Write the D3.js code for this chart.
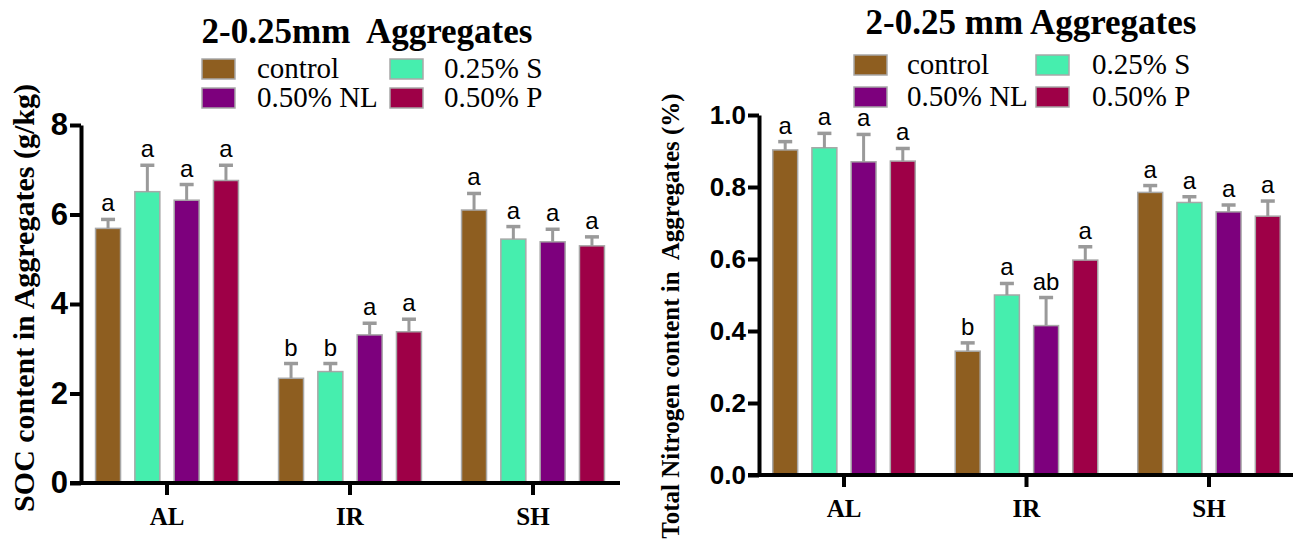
<html>
<head>
<script src="https://d3js.org/d3.v7.min.js"></script>
<style>
body { margin: 0; background: #fff; }
</style>
</head>
<body>
<script>
var groups = ["AL", "IR", "SH"];
var series = ["control", "0.25% S", "0.50% NL", "0.50% P"];
var colors = ["#8e5e20", "#46eeae", "#7d007d", "#9e0047"];

// SOC (g/kg)
var socControl = [5.69, 2.34, 6.10];
var socS = [6.51, 2.49, 5.45];
var socNL = [6.32, 3.31, 5.39];
var socP = [6.76, 3.38, 5.30];
var socControlErr = [0.20, 0.33, 0.37];
var socSErr = [0.59, 0.18, 0.28];
var socNLErr = [0.35, 0.26, 0.28];
var socPErr = [0.34, 0.28, 0.20];
var socControlSig = ["a", "b", "a"];
var socSSig = ["a", "b", "a"];
var socNLSig = ["a", "a", "a"];
var socPSig = ["a", "a", "a"];
var socTicks = [0, 2, 4, 6, 8];

// Total N (%)
var tnControl = [0.903, 0.344, 0.785];
var tnS = [0.909, 0.500, 0.757];
var tnNL = [0.870, 0.415, 0.731];
var tnP = [0.872, 0.597, 0.719];
var tnControlErr = [0.023, 0.023, 0.019];
var tnSErr = [0.040, 0.032, 0.016];
var tnNLErr = [0.076, 0.078, 0.019];
var tnPErr = [0.035, 0.037, 0.042];
var tnControlSig = ["a", "b", "a"];
var tnSSig = ["a", "a", "a"];
var tnNLSig = ["a", "ab", "a"];
var tnPSig = ["a", "a", "a"];
var tnTicks = [0, 0.2, 0.4, 0.6, 0.8, 1.0];

var W = 1293, H = 542;
var svg = d3.select("body").append("svg").attr("width", W).attr("height", H);

function build(means, errs, sigs) {
	var rows = [];
	groups.forEach(function(g, i) {
		series.forEach(function(s, j) {
			rows.push({group: g, series: s, color: colors[j], v: means[j][i], e: errs[j][i], sig: sigs[j][i]});
		});
	});
	return rows;
}

function panel(opt) {
	var g = svg.append("g");
	var y = d3.scaleLinear().domain(opt.domain).range([opt.y0, opt.y1]);
	var x0 = d3.scaleBand().domain(groups).range(opt.xr);
	var x1 = d3.scaleBand().domain(series).range([0, x0.bandwidth()]).paddingInner(0.364).paddingOuter(0.51);
	var rows = build(opt.means, opt.errs, opt.sigs);

	// bars
	g.selectAll("rect.bar").data(rows).enter().append("rect").attr("class", "bar")
		.attr("x", function(d){ return x0(d.group) + x1(d.series); })
		.attr("y", function(d){ return y(d.v); })
		.attr("width", x1.bandwidth())
		.attr("height", function(d){ return y(0) - y(d.v); })
		.attr("fill", function(d){ return d.color; })
		.attr("stroke", "#a8a8a8").attr("stroke-width", 1.5);

	// error bars
	var cx = function(d){ return x0(d.group) + x1(d.series) + x1.bandwidth() / 2; };
	g.selectAll("line.err").data(rows).enter().append("line")
		.attr("x1", cx).attr("x2", cx)
		.attr("y1", function(d){ return y(d.v); })
		.attr("y2", function(d){ return y(d.v + d.e); })
		.attr("stroke", "#9a9a9a").attr("stroke-width", 3);
	g.selectAll("line.cap").data(rows).enter().append("line")
		.attr("x1", function(d){ return cx(d) - 7; }).attr("x2", function(d){ return cx(d) + 7; })
		.attr("y1", function(d){ return y(d.v + d.e); })
		.attr("y2", function(d){ return y(d.v + d.e); })
		.attr("stroke", "#9a9a9a").attr("stroke-width", 3.5);

	// significance letters
	g.selectAll("text.sig").data(rows).enter().append("text")
		.attr("x", cx)
		.attr("y", function(d){ return y(d.v + d.e) - 8; })
		.attr("text-anchor", "middle")
		.style("font-family", "Liberation Sans, Arial, sans-serif")
		.style("font-size", "24px")
		.text(function(d){ return d.sig; });

	// y axis
	var yAxis = d3.axisLeft(y).tickValues(opt.ticks).tickFormat(opt.fmt).tickSize(11).tickSizeOuter(0).tickPadding(2);
	var ya = g.append("g").attr("transform", "translate(" + opt.ax + ",0)").call(yAxis);
	ya.select(".domain").attr("stroke-width", 4).attr("stroke", "#000");
	ya.selectAll(".tick line").attr("stroke-width", 4);
	ya.selectAll(".tick text").style("font-family", "Liberation Sans, Arial, sans-serif")
		.style("font-weight", "bold").style("font-size", opt.tickFont).attr("fill", "#000");

	// x axis
	var xAxis = d3.axisBottom(x0).tickSize(12).tickSizeOuter(0).tickPadding(12);
	var xa = g.append("g").attr("transform", "translate(0," + y(0) + ")").call(xAxis);
	xa.select(".domain").attr("d", "M" + (opt.ax - 11) + ",0H" + opt.xEnd).attr("stroke-width", 4).attr("stroke", "#000");
	xa.selectAll(".tick line").attr("stroke-width", 4);
	xa.selectAll(".tick text").style("font-family", "Liberation Serif, Times New Roman, serif")
		.style("font-weight", "bold").style("font-size", "25px").attr("fill", "#000");

	// y title
	g.append("text")
		.attr("transform", "translate(" + opt.ytX + "," + opt.ytY + ") rotate(-90)")
		.attr("text-anchor", "middle")
		.style("font-family", "Liberation Serif, Times New Roman, serif")
		.style("font-weight", "bold").style("font-size", opt.ytFont)
		.style("white-space", "pre")
		.text(opt.ytitle);

	// title
	g.append("text").attr("x", opt.tX).attr("y", opt.tY).attr("text-anchor", "middle")
		.style("font-family", "Liberation Serif, Times New Roman, serif")
		.style("font-weight", "bold").style("font-size", "35px")
		.style("white-space", "pre")
		.text(opt.title);

	// legend
	var lg = g.append("g");
	series.forEach(function(s, j) {
		var col = j % 2, row = Math.floor(j / 2);
		var lx = opt.lgX[col], ly = opt.lgY[row];
		lg.append("rect").attr("x", lx).attr("y", ly).attr("width", 33).attr("height", 20)
			.attr("fill", colors[[0, 1, 2, 3][j]]).attr("stroke", "#a8a8a8").attr("stroke-width", 1.5);
		lg.append("text").attr("x", lx + opt.lgT[col]).attr("y", ly + 19)
			.style("font-family", "Liberation Serif, Times New Roman, serif")
			.style("font-size", "29px")
			.text(s);
	});
}

// legend order in reading order: control, 0.25% S / 0.50% NL, 0.50% P
panel({
	domain: [0, 8], y0: 483, y1: 125, xr: [75.5, 624.5], ax: 81, xEnd: 620,
	means: [socControl, socS, socNL, socP], errs: [socControlErr, socSErr, socNLErr, socPErr],
	sigs: [socControlSig, socSSig, socNLSig, socPSig],
	ticks: socTicks, fmt: d3.format("d"), tickFont: "31px",
	ytitle: "SOC content in Aggregates (g/kg)", ytX: 34, ytY: 298, ytFont: "30px",
	title: "2-0.25mm  Aggregates", tX: 367, tY: 43,
	lgX: [202, 390], lgY: [59, 88], lgT: [55, 54]
});

panel({
	domain: [0, 1], y0: 475, y1: 115, xr: [752.75, 1300.25], ax: 759, xEnd: 1293,
	means: [tnControl, tnS, tnNL, tnP], errs: [tnControlErr, tnSErr, tnNLErr, tnPErr],
	sigs: [tnControlSig, tnSSig, tnNLSig, tnPSig],
	ticks: tnTicks, fmt: d3.format(".1f"), tickFont: "26px",
	ytitle: "Total Nitrogen content in  Aggregates (%)", ytX: 679, ytY: 316, ytFont: "25px",
	title: "2-0.25 mm Aggregates", tX: 1031, tY: 34,
	lgX: [854, 1036], lgY: [55, 87], lgT: [53, 56]
});
</script>
</body>
</html>
